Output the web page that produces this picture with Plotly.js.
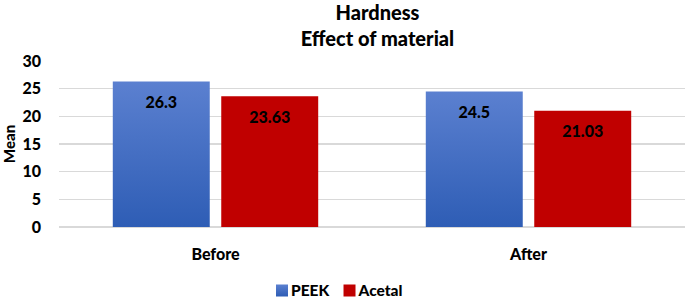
<!DOCTYPE html>
<html>
<head>
<meta charset="utf-8">
<script src="https://cdn.plot.ly/plotly-3.0.1.min.js"></script>
<style>html,body{margin:0;padding:0;background:#fff;}#chart{width:685px;height:298px;}</style>
</head>
<body>
<div id="chart"></div>
<script>
const categories = ["Before", "After"];
const peekValues = [26.3, 24.5];
const acetalValues = [23.63, 21.03];
const seriesNames = ["PEEK", "Acetal"];
const yTicks = [0, 5, 10, 15, 20, 25, 30];

const FONT = "Lato, 'Liberation Sans', sans-serif";
const lbl = v => '<span style="font-size:3px"> </span><br>' + v;
const boldFont = size => ({family: FONT, size: size, color: "#000", weight: 900});

const traces = [
  {
    type: "bar", name: seriesNames[0], x: categories, y: peekValues,
    text: peekValues.map(lbl), textposition: "inside", insidetextanchor: "end",
    constraintext: "none", textfont: boldFont(16),
    marker: {color: "#4472c4", line: {width: 0}}, hoverinfo: "none"
  },
  {
    type: "bar", name: seriesNames[1], x: categories, y: acetalValues,
    text: acetalValues.map(lbl), textposition: "inside", insidetextanchor: "end",
    constraintext: "none", textfont: boldFont(16),
    marker: {color: "#c00000", line: {width: 0}}, hoverinfo: "none"
  }
];

const layout = {
  width: 685, height: 298,
  margin: {l: 59, r: 0, t: 61, b: 71, pad: 0, autoexpand: false},
  paper_bgcolor: "#fff", plot_bgcolor: "#fff",
  font: boldFont(15),
  title: {
    text: "Hardness<br>Effect of material",
    font: boldFont(20),
    x: 0.551, xanchor: "center", y: 0.932, yanchor: "top"
  },
  barmode: "group", bargap: 0.307, bargroupgap: 0.106,
  showlegend: true,
  legend: {
    orientation: "h", x: 0.3, xanchor: "left", y: -0.282, yanchor: "top",
    font: boldFont(15.5), itemwidth: 30, traceorder: "normal"
  },
  xaxis: {
    type: "category", showgrid: false, zeroline: false, showline: false,
    ticks: "", ticklabelstandoff: 16, tickfont: boldFont(16)
  },
  yaxis: {
    range: [0, 30], tickvals: yTicks, ticktext: yTicks.map(String),
    showgrid: true, gridcolor: "#d9d9d9", gridwidth: 1.5,
    zeroline: true, zerolinecolor: "#d9d9d9", zerolinewidth: 1.5,
    showline: false, ticks: "", ticklabelstandoff: 17, tickfont: boldFont(16),
    title: {text: "Mean", font: boldFont(15), standoff: 8}
  }
};

Plotly.newPlot("chart", traces, layout, {displayModeBar: false, staticPlot: true}).then(gd => {
  const svg = gd.querySelector("svg.main-svg");
  const ns = "http://www.w3.org/2000/svg";
  const defs = svg.querySelector("defs");
  const grad = document.createElementNS(ns, "linearGradient");
  grad.setAttribute("id", "peekGrad");
  grad.setAttribute("x1", "0"); grad.setAttribute("y1", "0");
  grad.setAttribute("x2", "0"); grad.setAttribute("y2", "1");
  [["0", "#5b80d0"], ["1", "#2e5db5"]].forEach(([o, c]) => {
    const s = document.createElementNS(ns, "stop");
    s.setAttribute("offset", o); s.setAttribute("stop-color", c);
    grad.appendChild(s);
  });
  defs.appendChild(grad);
  const traceGroups = gd.querySelectorAll(".barlayer .trace.bars");
  if (traceGroups[0]) {
    traceGroups[0].querySelectorAll("path").forEach(p => p.style.setProperty("fill", "url(#peekGrad)"));
  }
  // tighten legend spacing (symbol-to-text and item-to-item)
  const items = gd.querySelectorAll(".legend .traces");
  items.forEach((g, i) => {
    const t = g.querySelector("text.legendtext");
    if (t) t.setAttribute("x", String(parseFloat(t.getAttribute("x")) - 11));
    const m = /translate\(([-\d.]+),\s*([-\d.]+)\)/.exec(g.getAttribute("transform") || "");
    if (m) g.setAttribute("transform", `translate(${parseFloat(m[1]) - i * 16},${m[2]})`);
    if (i === 0) g.querySelectorAll(".legendpoints path").forEach(p => p.style.setProperty("fill", "url(#peekGrad)"));
  });
  // place legend so first symbol starts at x=276
  const legend = gd.querySelector(".legend");
  const firstSym = gd.querySelector(".legend .traces .legendpoints path");
  if (legend && firstSym) {
    const dx = 276 - firstSym.getBoundingClientRect().left;
    const m = /translate\(([-\d.]+),\s*([-\d.]+)\)/.exec(legend.getAttribute("transform") || "");
    if (m) legend.setAttribute("transform", `translate(${parseFloat(m[1]) + dx},${m[2]})`);
  }
});
</script>
</body>
</html>
